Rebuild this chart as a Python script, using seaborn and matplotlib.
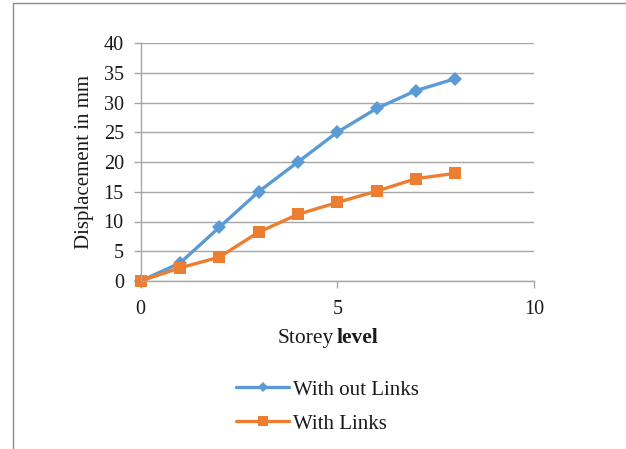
import matplotlib
matplotlib.use("Agg")
import matplotlib.pyplot as plt
from matplotlib.lines import Line2D
import pandas as pd
import seaborn as sns

# Storey displacement data
storey = [0, 1, 2, 3, 4, 5, 6, 7, 8]
without_links = [0, 3, 9, 15, 20, 25, 29, 32, 34]
with_links = [0, 2.2, 4, 8.2, 11.2, 13.2, 15.1, 17.2, 18.1]
series_names = ["With out Links", "With Links"]
x_ticks = [0, 5, 10]
y_ticks = [0, 5, 10, 15, 20, 25, 30, 35, 40]

df = pd.concat([
    pd.DataFrame({"storey": storey, "disp": without_links, "series": series_names[0]}),
    pd.DataFrame({"storey": storey, "disp": with_links, "series": series_names[1]}),
])

sns.set_theme(style="white")
plt.rcParams["font.family"] = ["Liberation Serif", "DejaVu Serif"]

W, H = 626, 449
fig = plt.figure(figsize=(W / 100, H / 100), dpi=100)
ax = fig.add_axes([140.5 / W, (H - 281) / H, (534 - 140.5) / W, (281 - 43) / H])

blue, orange = "#5B9BD5", "#ED7D31"
text_c = "#1a1a1a"
palette = {series_names[0]: blue, series_names[1]: orange}
sns.lineplot(data=df, x="storey", y="disp", hue="series", style="series",
             palette=palette, markers={series_names[0]: "D", series_names[1]: "s"},
             dashes=False, linewidth=2.4, markersize=8.5, markeredgewidth=0,
             legend=False, ax=ax)
for ln in ax.lines:
    if ln.get_marker() == "D":
        ln.set_markersize(7.5)
    ln.set_clip_on(False)

ax.set_xlim(0, 10)
ax.set_ylim(0, 40)
ax.set_xticks(x_ticks)
ax.set_yticks(y_ticks)
grid_c = "#A6A6A6"
ax.yaxis.grid(True, color=grid_c, linewidth=1.0)
ax.xaxis.grid(False)
for s in ["top", "right"]:
    ax.spines[s].set_visible(False)
for s in ["left", "bottom"]:
    ax.spines[s].set_color(grid_c)
    ax.spines[s].set_linewidth(1.0)
ax.tick_params(axis="both", which="major", direction="out", length=5, width=1.0,
               color=grid_c, labelsize=14.5, labelcolor=text_c, pad=7,
               left=True, bottom=True)
ax.tick_params(axis="x", pad=9)
ax.set_axisbelow(True)

ax.set_xlabel("")
ax.set_ylabel("")
fig.text(85 / W, 1 - 162 / H, "Displacement in mm", rotation=90, ha="center",
         va="center", fontsize=15, color=text_c)

# x-axis title with a bold second word
fig.text(334 / W, 1 - 338 / H, "Storey", ha="right", va="center",
         fontsize=15.5, color=text_c)
fig.text(337 / W, 1 - 338 / H, "level", ha="left", va="center",
         fontsize=15.5, fontweight="bold", color=text_c)

handles = [
    Line2D([], [], color=blue, linewidth=2.4, marker="D", markersize=5.5, markeredgewidth=0),
    Line2D([], [], color=orange, linewidth=2.4, marker="s", markersize=6.5, markeredgewidth=0),
]
fig.legend(handles, series_names, loc="upper left",
           bbox_to_anchor=(236 / W, 1 - 380 / H), frameon=False,
           fontsize=15, handlelength=2.55, handletextpad=0.2,
           labelspacing=0.7, borderpad=0, borderaxespad=0, labelcolor=text_c)

# Outer chart frame
frame_c = "#8C8C8C"
fig.add_artist(Line2D([12.5 / W, 12.5 / W], [0, 1 - 3 / H], transform=fig.transFigure,
                      color=frame_c, linewidth=1.0))
fig.add_artist(Line2D([12.5 / W, 1], [1 - 3 / H, 1 - 3 / H], transform=fig.transFigure,
                      color=frame_c, linewidth=1.0))

fig.savefig("out.png", dpi=100, facecolor="white")
